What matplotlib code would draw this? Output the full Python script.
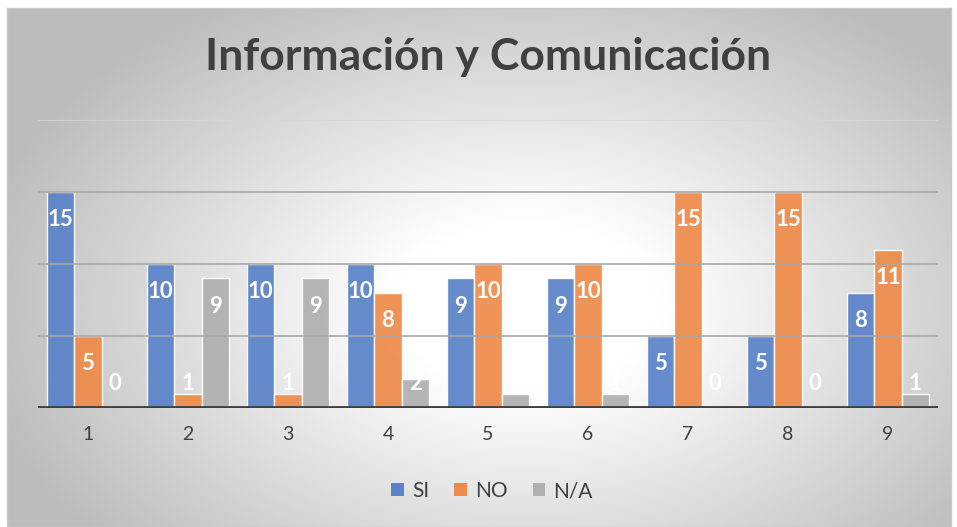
import numpy as np
import matplotlib
matplotlib.use("Agg")
import matplotlib.pyplot as plt
from matplotlib.patches import Patch

categories = ["1", "2", "3", "4", "5", "6", "7", "8", "9"]
si = [15, 10, 10, 10, 9, 9, 5, 5, 8]
no = [5, 1, 1, 8, 10, 10, 15, 15, 11]
na = [0, 9, 9, 2, 1, 1, 0, 0, 1]
series_names = ["SI", "NO", "N/A"]
colors = ["#5B83C9", "#EE8B4A", "#B0B0B0"]
title = "Información y Comunicación"

W, H = 957, 527
fig = plt.figure(figsize=(W / 100, H / 100), dpi=100)
fig.patch.set_facecolor("white")

# background radial gradient
bx0, by0, bx1, by1 = 7, 8, 951, 527
bg = fig.add_axes([bx0 / W, 1 - by1 / H, (bx1 - bx0) / W, (by1 - by0) / H], zorder=0)
gx = np.linspace(-1, 1, 400)
gy = np.linspace(-1, 1, 220)
X, Y = np.meshgrid(gx, gy)
R = np.sqrt(((X - 0.1) * 1.0) ** 2 + ((Y - 0.15) * 0.85) ** 2)
R = np.clip((R - 0.28) / 0.9, 0, 1)
val = 1.0 - 0.26 * R ** 1.0
img = np.dstack([val, val, val])
bg.imshow(img, aspect="auto", extent=[0, 1, 0, 1], interpolation="bilinear")
bg.set_xticks([]); bg.set_yticks([])
for s in bg.spines.values():
    s.set_color("#c8c8c8"); s.set_linewidth(1)

# plot area
left, right, top, bottom = 38, 938, 120, 408
ax = fig.add_axes([left / W, 1 - bottom / H, (right - left) / W, (bottom - top) / H], zorder=1)
ax.patch.set_alpha(0)
x = np.arange(1, len(categories) + 1)
bw = 0.273
ymax = 20
ax.set_xlim(0.5, len(categories) + 0.5)
ax.set_ylim(0, ymax)
for yv in [5, 10, 15]:
    ax.axhline(yv, color="#a8a8a8", lw=1.2, zorder=3)
ax.axhline(20, color="#d6d6d6", lw=1.2, zorder=3)

px_per_unit = (bottom - top) / ymax
for i, (vals, c) in enumerate(zip([si, no, na], colors)):
    xs = x + (i - 1) * bw
    ax.bar(xs, vals, width=bw, color=c, alpha=0.93, edgecolor=(1, 1, 1, 0.55), linewidth=1.0, zorder=2)
    for xx, v in zip(xs, vals):
        top_px = bottom - v * px_per_unit
        cy = min(top_px + 28, bottom - 24)
        yv = (bottom - cy) / px_per_unit
        ax.text(xx, yv, str(v), ha="center", va="center", color="white",
                fontsize=16, fontweight="bold", family="Lato", zorder=5)

ax.axhline(0, color="#404040", lw=3.5, zorder=4)
for s in ax.spines.values():
    s.set_visible(False)
ax.set_yticks([])
ax.set_xticks(x)
ax.set_xticklabels(categories, fontsize=14, color="#404040", family="Lato")
ax.tick_params(axis="x", length=0, pad=13)

fig.text(488 / W, 1 - 57 / H, title, ha="center", va="center", fontsize=32,
         fontweight="bold", color="#404040", family="Lato")

handles = [Patch(facecolor=c, edgecolor="none") for c in colors]
leg = fig.legend(handles, series_names, loc="center", bbox_to_anchor=(492 / W, 1 - 491 / H),
                 ncol=3, frameon=False, handlelength=0.6, handleheight=0.6,
                 handletextpad=0.4, columnspacing=1.2, prop={"family": "Lato", "size": 15})
for t in leg.get_texts():
    t.set_color("#404040")

fig.savefig("out.png", dpi=100)
